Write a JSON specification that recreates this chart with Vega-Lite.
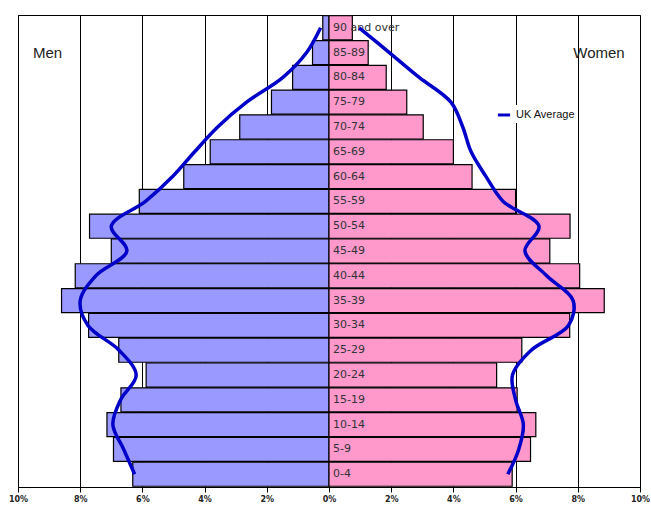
{
  "$schema": "https://vega.github.io/schema/vega-lite/v6.json",
  "width": 622,
  "height": 472,
  "autosize": {"type": "none"},
  "padding": {"left": 18, "top": 15, "right": 11, "bottom": 22},
  "background": "white",
  "config": {"view": {"stroke": "black", "strokeWidth": 1}, "font": "DejaVu Sans"},
  "data": {"values": [
    {"age": "0-4", "i": 0, "sex": "Men", "pct": 6.31, "avg": 6.25},
    {"age": "5-9", "i": 1, "sex": "Men", "pct": 6.93, "avg": 6.6},
    {"age": "10-14", "i": 2, "sex": "Men", "pct": 7.14, "avg": 6.95},
    {"age": "15-19", "i": 3, "sex": "Men", "pct": 6.69, "avg": 6.7},
    {"age": "20-24", "i": 4, "sex": "Men", "pct": 5.88, "avg": 6.2},
    {"age": "25-29", "i": 5, "sex": "Men", "pct": 6.76, "avg": 6.75},
    {"age": "30-34", "i": 6, "sex": "Men", "pct": 7.73, "avg": 7.75},
    {"age": "35-39", "i": 7, "sex": "Men", "pct": 8.6, "avg": 8.0},
    {"age": "40-44", "i": 8, "sex": "Men", "pct": 8.16, "avg": 7.5},
    {"age": "45-49", "i": 9, "sex": "Men", "pct": 7.0, "avg": 6.5},
    {"age": "50-54", "i": 10, "sex": "Men", "pct": 7.7, "avg": 7.0},
    {"age": "55-59", "i": 11, "sex": "Men", "pct": 6.1, "avg": 5.9},
    {"age": "60-64", "i": 12, "sex": "Men", "pct": 4.67, "avg": 5.03},
    {"age": "65-69", "i": 13, "sex": "Men", "pct": 3.82, "avg": 4.32},
    {"age": "70-74", "i": 14, "sex": "Men", "pct": 2.87, "avg": 3.58},
    {"age": "75-79", "i": 15, "sex": "Men", "pct": 1.85, "avg": 2.65},
    {"age": "80-84", "i": 16, "sex": "Men", "pct": 1.17, "avg": 1.48},
    {"age": "85-89", "i": 17, "sex": "Men", "pct": 0.53, "avg": 0.72},
    {"age": "90 and over", "i": 18, "sex": "Men", "pct": 0.2, "avg": 0.27},
    {"age": "0-4", "i": 0, "sex": "Women", "pct": 5.89, "avg": 5.75},
    {"age": "5-9", "i": 1, "sex": "Women", "pct": 6.48, "avg": 6.1},
    {"age": "10-14", "i": 2, "sex": "Women", "pct": 6.65, "avg": 6.25},
    {"age": "15-19", "i": 3, "sex": "Women", "pct": 6.05, "avg": 6.0},
    {"age": "20-24", "i": 4, "sex": "Women", "pct": 5.39, "avg": 5.9},
    {"age": "25-29", "i": 5, "sex": "Women", "pct": 6.2, "avg": 6.5},
    {"age": "30-34", "i": 6, "sex": "Women", "pct": 7.74, "avg": 7.7},
    {"age": "35-39", "i": 7, "sex": "Women", "pct": 8.85, "avg": 7.85},
    {"age": "40-44", "i": 8, "sex": "Women", "pct": 8.06, "avg": 7.0},
    {"age": "45-49", "i": 9, "sex": "Women", "pct": 7.1, "avg": 6.3},
    {"age": "50-54", "i": 10, "sex": "Women", "pct": 7.75, "avg": 6.75},
    {"age": "55-59", "i": 11, "sex": "Women", "pct": 6.0, "avg": 5.6},
    {"age": "60-64", "i": 12, "sex": "Women", "pct": 4.6, "avg": 5.05},
    {"age": "65-69", "i": 13, "sex": "Women", "pct": 4.0, "avg": 4.57},
    {"age": "70-74", "i": 14, "sex": "Women", "pct": 3.03, "avg": 4.3},
    {"age": "75-79", "i": 15, "sex": "Women", "pct": 2.5, "avg": 3.92},
    {"age": "80-84", "i": 16, "sex": "Women", "pct": 1.84, "avg": 2.9},
    {"age": "85-89", "i": 17, "sex": "Women", "pct": 1.26, "avg": 1.94},
    {"age": "90 and over", "i": 18, "sex": "Women", "pct": 0.75, "avg": 0.97}
  ]},
  "encoding": {
    "y": {
      "field": "age", "type": "nominal",
      "sort": ["90 and over", "85-89", "80-84", "75-79", "70-74", "65-69", "60-64", "55-59", "50-54", "45-49", "40-44", "35-39", "30-34", "25-29", "20-24", "15-19", "10-14", "5-9", "0-4"],
      "axis": null,
      "scale": {"paddingInner": 0.03, "paddingOuter": 0.03}
    }
  },
  "layer": [
    {
      "transform": [
        {"calculate": "datum.sex == 'Men' ? -datum.pct : datum.pct", "as": "x"}
      ],
      "mark": {"type": "bar", "stroke": "black", "strokeWidth": 1.2},
      "encoding": {
        "x": {
          "field": "x", "type": "quantitative",
          "scale": {"domain": [-10, 10], "nice": false},
          "axis": {
            "values": [-10, -8, -6, -4, -2, 0, 2, 4, 6, 8, 10],
            "labelExpr": "abs(datum.value) + '%'",
            "grid": true, "gridColor": "black", "gridOpacity": 1, "gridWidth": 1,
            "domain": true, "domainColor": "black",
            "tickColor": "black", "tickSize": 5,
            "labelFontSize": 8, "labelColor": "#222", "labelPadding": 3,
            "labelFontWeight": "bold", "labelFlush": false, "title": null
          }
        },
        "fill": {"field": "sex", "type": "nominal", "scale": {"domain": ["Men", "Women"], "range": ["#9999FF", "#FF99CC"]}, "legend": null}
      }
    },
    {
      "transform": [{"filter": "datum.sex == 'Women'"}],
      "mark": {"type": "text", "align": "left", "baseline": "middle", "dx": 4, "fontSize": 11, "font": "DejaVu Sans", "color": "#333"},
      "encoding": {
        "x": {"datum": 0, "type": "quantitative"},
        "text": {"field": "age"}
      }
    },
    {
      "transform": [
        {"calculate": "datum.sex == 'Men' ? -datum.avg : datum.avg", "as": "xa"}
      ],
      "mark": {"type": "line", "interpolate": "catmull-rom", "strokeWidth": 3.5},
      "encoding": {
        "x": {"field": "xa", "type": "quantitative"},
        "order": {"field": "i"},
        "detail": {"field": "sex"},
        "stroke": {
          "datum": "UK Average", "type": "nominal",
          "scale": {"range": ["#0000C8"]},
          "legend": {
            "title": null, "orient": "none", "legendX": 476, "legendY": 90,
            "symbolType": "stroke", "symbolStrokeWidth": 3, "symbolSize": 150,
            "labelFontSize": 11, "labelFont": "Liberation Sans", "labelColor": "#111",
            "fillColor": "white", "padding": 2
          }
        }
      }
    },
    {
      "data": {"values": [{"label": "Men", "px": -9.05, "age": "85-89"}, {"label": "Women", "px": 8.68, "age": "85-89"}]},
      "mark": {"type": "text", "align": "center", "baseline": "middle", "fontSize": 15, "font": "Liberation Sans", "color": "#222"},
      "encoding": {
        "x": {"field": "px", "type": "quantitative"},
        "text": {"field": "label"}
      }
    }
  ]
}
